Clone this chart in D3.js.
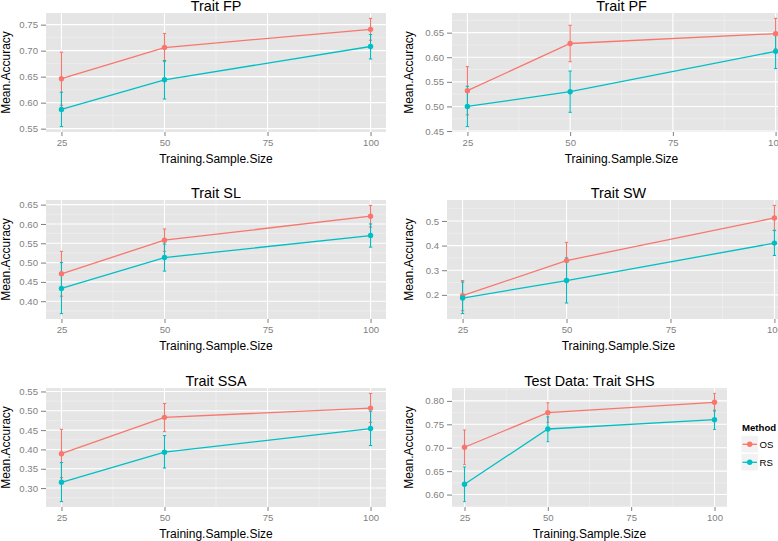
<!DOCTYPE html>
<html>
<head>
<meta charset="utf-8">
<script src="https://cdn.jsdelivr.net/npm/d3@7"></script>
<style>
  html, body { margin: 0; padding: 0; background: #fff; }
  svg { display: block; font-family: "Liberation Sans", Arial, Helvetica, sans-serif; }
</style>
</head>
<body>
<svg id="chart" width="778" height="541"></svg>
<script>
// ---------------- DATA ----------------
const sizes = [25, 50, 100];
const xTickLabels = ["25", "50", "75", "100"];
const traits = ["Trait FP", "Trait PF", "Trait SL", "Trait SW", "Trait SSA", "Test Data: Trait SHS"];
const methods = ["OS", "RS"];

const osMean = [[0.646, 0.706, 0.741], [0.532, 0.628, 0.648], [0.471, 0.558, 0.620],
                [0.197, 0.339, 0.512], [0.389, 0.483, 0.507], [0.701, 0.775, 0.797]];
const osLow  = [[0.595, 0.679, 0.720], [0.483, 0.591, 0.617], [0.413, 0.529, 0.592],
                [0.136, 0.266, 0.461], [0.327, 0.446, 0.470], [0.664, 0.754, 0.778]];
const osHigh = [[0.697, 0.733, 0.762], [0.581, 0.665, 0.679], [0.529, 0.587, 0.648],
                [0.258, 0.413, 0.563], [0.452, 0.519, 0.545], [0.738, 0.796, 0.816]];

const rsMean = [[0.587, 0.644, 0.708], [0.500, 0.530, 0.612], [0.433, 0.513, 0.570],
                [0.187, 0.258, 0.410], [0.315, 0.393, 0.454], [0.622, 0.740, 0.760]];
const rsLow  = [[0.554, 0.607, 0.684], [0.459, 0.488, 0.577], [0.368, 0.478, 0.540],
                [0.124, 0.167, 0.360], [0.265, 0.352, 0.410], [0.585, 0.713, 0.739]];
const rsHigh = [[0.620, 0.681, 0.731], [0.541, 0.572, 0.647], [0.500, 0.548, 0.600],
                [0.252, 0.350, 0.462], [0.366, 0.436, 0.499], [0.659, 0.766, 0.780]];

const yTickLabels = [
  ["0.55", "0.60", "0.65", "0.70", "0.75"],
  ["0.45", "0.50", "0.55", "0.60", "0.65"],
  ["0.40", "0.45", "0.50", "0.55", "0.60", "0.65"],
  ["0.2", "0.3", "0.4", "0.5"],
  ["0.30", "0.35", "0.40", "0.45", "0.50", "0.55"],
  ["0.60", "0.65", "0.70", "0.75", "0.80"]
];

// ---------------- STYLE / LAYOUT ----------------
const colors = { OS: "#F8766D", RS: "#00BFC4" };
const layout = [
  { l: 46,  r: 386, t: 13,  b: 132, yt: 10 },
  { l: 452, r: 791, t: 13,  b: 132, yt: 413 },
  { l: 46,  r: 386, t: 200, b: 319, yt: 10 },
  { l: 447, r: 790, t: 200, b: 319, yt: 413 },
  { l: 46,  r: 386, t: 388, b: 507, yt: 10 },
  { l: 452, r: 727, t: 388, b: 507, yt: 413 }
];
const grey50 = "#7F7F7F";

const svg = d3.select("#chart");
const xExt = d3.extent(sizes);
const xPad = (xExt[1] - xExt[0]) * 0.05;
const xTicks = xTickLabels.map(Number);

traits.forEach((title, p) => {
  const L = layout[p];
  const g = svg.append("g");
  const x = d3.scaleLinear().domain([xExt[0] - xPad, xExt[1] + xPad]).range([L.l, L.r]);
  const lo = Math.min(d3.min(osLow[p]), d3.min(rsLow[p]));
  const hi = Math.max(d3.max(osHigh[p]), d3.max(rsHigh[p]));
  const yPad = (hi - lo) * 0.05;
  const y = d3.scaleLinear().domain([lo - yPad, hi + yPad]).range([L.b, L.t]);
  const yTicks = yTickLabels[p].map(Number);

  // panel background
  g.append("rect").attr("x", L.l).attr("y", L.t)
    .attr("width", L.r - L.l).attr("height", L.b - L.t).attr("fill", "#E5E5E5");

  const clipId = "clip" + p;
  g.append("clipPath").attr("id", clipId).append("rect")
    .attr("x", L.l).attr("y", L.t).attr("width", L.r - L.l).attr("height", L.b - L.t);
  const pg = g.append("g").attr("clip-path", `url(#${clipId})`);

  // minor grid
  const dom = y.domain();
  const step = yTicks[1] - yTicks[0];
  const yMinor = [];
  for (let v = yTicks[0] - step / 2; v <= yTicks[yTicks.length - 1] + step / 2 + 1e-9; v += step) {
    if (v >= dom[0] && v <= dom[1]) yMinor.push(v);
  }
  const xMinor = [];
  for (let i = 0; i < xTicks.length - 1; i++) xMinor.push((xTicks[i] + xTicks[i + 1]) / 2);

  pg.selectAll(".ymin").data(yMinor).join("line")
    .attr("x1", L.l).attr("x2", L.r).attr("y1", d => y(d)).attr("y2", d => y(d))
    .attr("stroke", "#F2F2F2").attr("stroke-width", 0.6);
  pg.selectAll(".xmin").data(xMinor).join("line")
    .attr("y1", L.t).attr("y2", L.b).attr("x1", d => x(d)).attr("x2", d => x(d))
    .attr("stroke", "#F2F2F2").attr("stroke-width", 0.6);
  pg.selectAll(".ymaj").data(yTicks).join("line")
    .attr("x1", L.l).attr("x2", L.r).attr("y1", d => y(d)).attr("y2", d => y(d))
    .attr("stroke", "#FFFFFF").attr("stroke-width", 1.1);
  pg.selectAll(".xmaj").data(xTicks).join("line")
    .attr("y1", L.t).attr("y2", L.b).attr("x1", d => x(d)).attr("x2", d => x(d))
    .attr("stroke", "#FFFFFF").attr("stroke-width", 1.1);

  const series = [
    { m: "OS", mean: osMean[p], low: osLow[p], high: osHigh[p] },
    { m: "RS", mean: rsMean[p], low: rsLow[p], high: rsHigh[p] }
  ];
  const ew = 0.4; // error-bar cap half width in data units

  series.forEach(s => {
    const c = colors[s.m];
    const eg = pg.append("g").attr("stroke", c).attr("stroke-width", 1.1);
    sizes.forEach((sz, i) => {
      eg.append("line").attr("x1", x(sz)).attr("x2", x(sz))
        .attr("y1", y(s.low[i])).attr("y2", y(s.high[i]));
      eg.append("line").attr("x1", x(sz - ew)).attr("x2", x(sz + ew))
        .attr("y1", y(s.low[i])).attr("y2", y(s.low[i]));
      eg.append("line").attr("x1", x(sz - ew)).attr("x2", x(sz + ew))
        .attr("y1", y(s.high[i])).attr("y2", y(s.high[i]));
    });
  });
  series.forEach(s => {
    const line = d3.line().x((d, i) => x(sizes[i])).y(d => y(d));
    pg.append("path").datum(s.mean).attr("d", line)
      .attr("fill", "none").attr("stroke", colors[s.m]).attr("stroke-width", 1.3);
  });
  series.forEach(s => {
    pg.selectAll(null).data(s.mean).join("circle")
      .attr("cx", (d, i) => x(sizes[i])).attr("cy", d => y(d)).attr("r", 2.7)
      .attr("fill", colors[s.m]);
  });

  // axes
  const yAxis = g.append("g").attr("transform", `translate(${L.l},0)`)
    .call(d3.axisLeft(y).tickValues(yTicks).tickFormat((d, i) => yTickLabels[p][i])
      .tickSize(5).tickPadding(3));
  const xAxis = g.append("g").attr("transform", `translate(0,${L.b})`)
    .call(d3.axisBottom(x).tickValues(xTicks).tickFormat((d, i) => xTickLabels[i])
      .tickSize(4).tickPadding(3.5));
  [yAxis, xAxis].forEach(a => {
    a.select(".domain").remove();
    a.selectAll(".tick line").attr("stroke", grey50);
    a.selectAll(".tick text").attr("fill", grey50)
      .style("font-size", "9.6px").style("font-family", "'Liberation Sans', Arial, sans-serif");
  });

  // titles
  g.append("text").attr("x", (L.l + L.r) / 2).attr("y", L.t - 1.8)
    .attr("text-anchor", "middle").style("font-size", "14.4px").attr("fill", "#000")
    .text(title);
  g.append("text").attr("x", (L.l + L.r) / 2).attr("y", L.b + 31)
    .attr("text-anchor", "middle").style("font-size", "12px").attr("fill", "#000")
    .text("Training.Sample.Size");
  g.append("text").attr("transform", `translate(${L.yt},${(L.t + L.b) / 2}) rotate(-90)`)
    .attr("text-anchor", "middle").style("font-size", "12px").attr("fill", "#000")
    .text("Mean.Accuracy");
});

// legend
const lg = svg.append("g");
lg.append("text").attr("x", 742).attr("y", 431).style("font-size", "9.6px")
  .style("font-weight", "bold").attr("fill", "#000").text("Method");
methods.forEach((m, i) => {
  const cy = 444.3 + i * 18;
  lg.append("rect").attr("x", 741).attr("y", cy - 8.7).attr("width", 17.3).attr("height", 17.3)
    .attr("fill", "#F2F2F2").attr("stroke", "#fff").attr("stroke-width", 0.8);
  lg.append("line").attr("x1", 742.5).attr("x2", 757).attr("y1", cy).attr("y2", cy)
    .attr("stroke", colors[m]).attr("stroke-width", 1.3);
  lg.append("circle").attr("cx", 749.7).attr("cy", cy).attr("r", 2.7).attr("fill", colors[m]);
  lg.append("text").attr("x", 759.5).attr("y", cy + 3.5).style("font-size", "9.6px")
    .attr("fill", "#000").text(m);
});
</script>
</body>
</html>
